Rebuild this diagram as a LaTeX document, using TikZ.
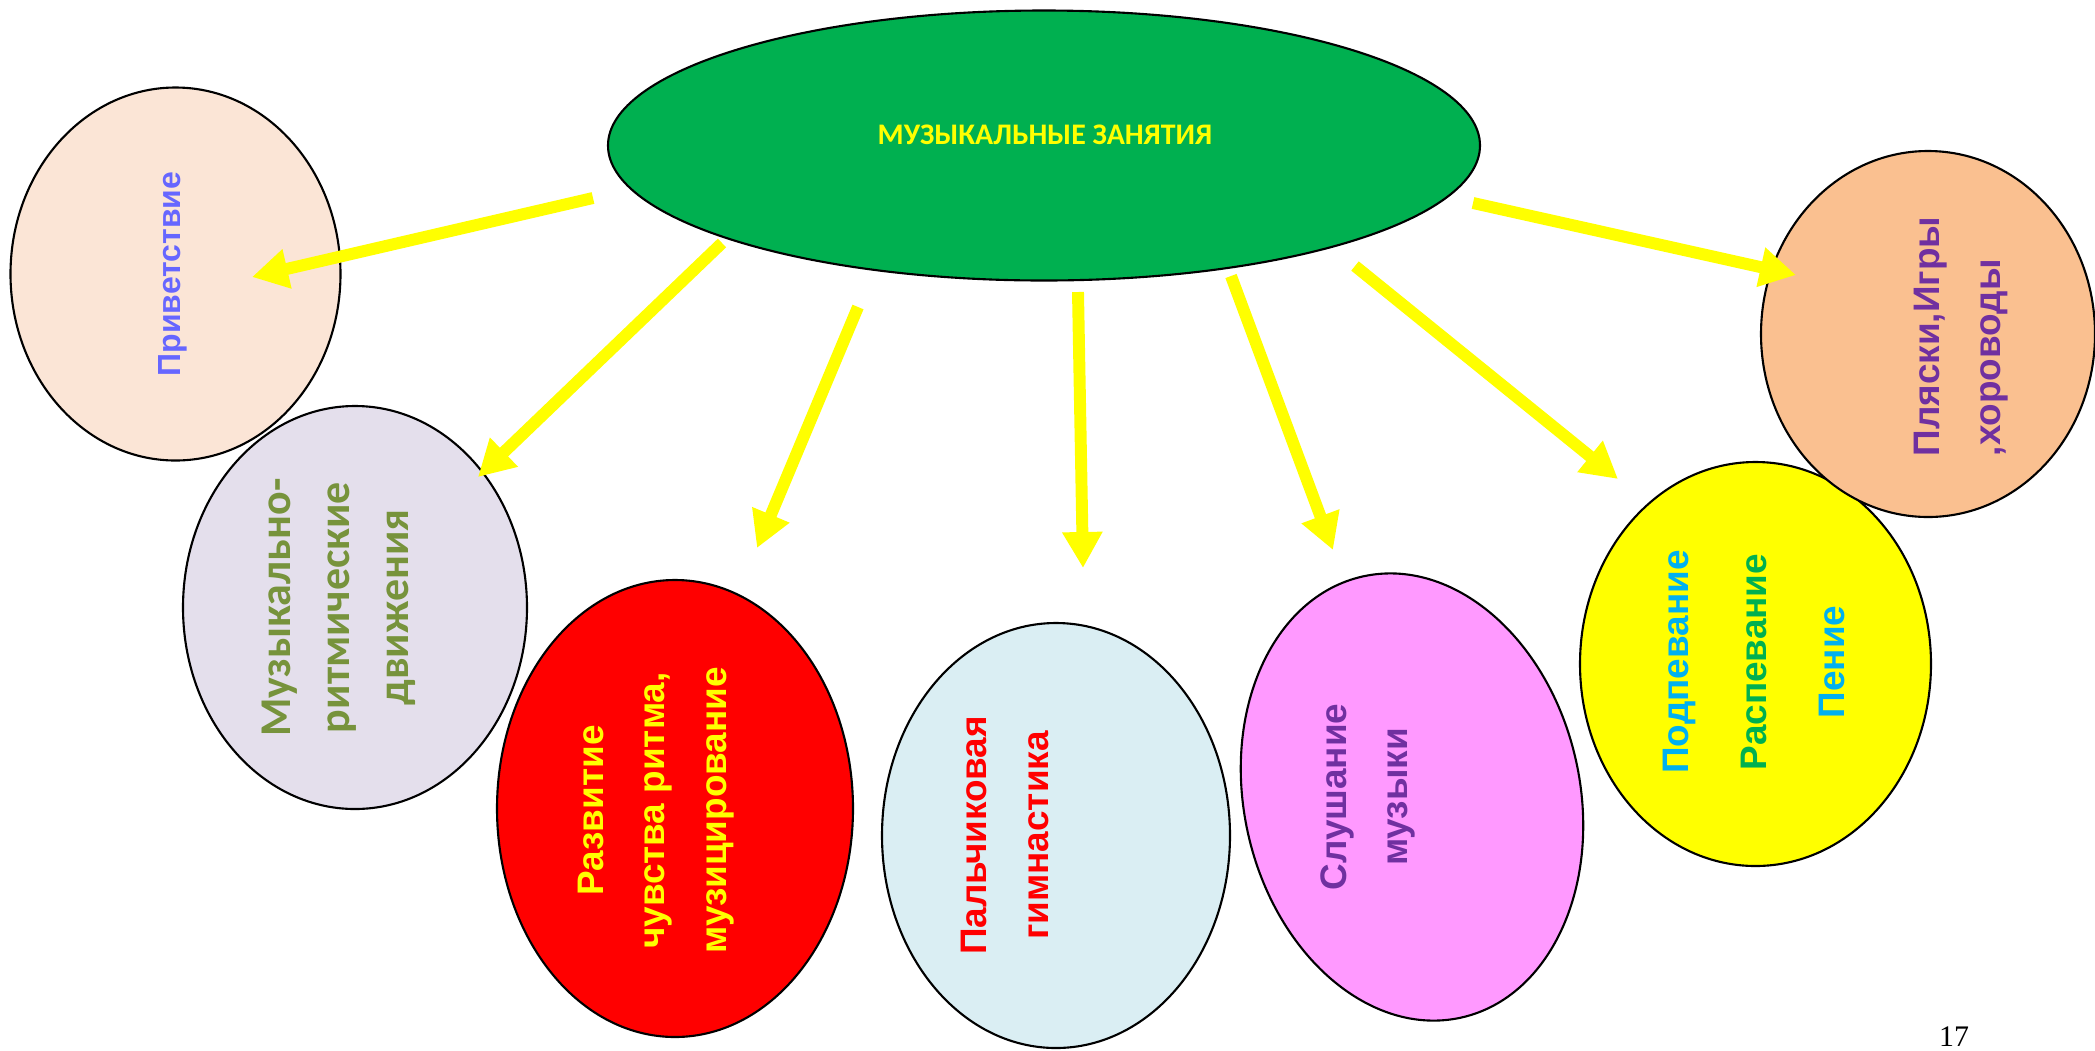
\documentclass[tikz,border=0pt]{standalone}
\usepackage{fontspec}
\setmainfont{Liberation Sans}
\newfontfamily\calibri{Carlito}
\newfontfamily\serifnum{Liberation Serif}
\usepackage{tikz}
\usetikzlibrary{calc,shapes.geometric,arrows.meta}
\definecolor{maingreen}{HTML}{00B050}
\definecolor{arrowyellow}{HTML}{FFFF00}
\definecolor{peach}{HTML}{FBE5D6}
\definecolor{lavender}{HTML}{E4DFEC}
\definecolor{paleblue}{HTML}{DAEEF3}
\definecolor{pink}{HTML}{FF99FF}
\definecolor{orange}{HTML}{FAC090}
\definecolor{violet}{HTML}{6666FF}
\definecolor{olive}{HTML}{77933C}
\definecolor{purple}{HTML}{7030A0}
\definecolor{cyan}{HTML}{00B0F0}
\def\drawarrow{\draw[color=arrowyellow, line width=3.4pt, -{Triangle[length=3.6mm,width=3.8mm]}]}
\def\bubble{\node[ellipse,draw=black,line width=0.6pt,inner sep=0pt]}
\def\bubbletext{\node[rotate=90,inner sep=0pt,align=center]}

\begin{document}
\begin{tikzpicture}[arial/.style={font=\bfseries\fontsize{10.5}{17.4}\selectfont}]
\useasboundingbox (0,0) rectangle (20.95,-10.5);

% ---------- the big green one on top
\bubble[fill=maingreen,minimum width=8.72cm,minimum height=2.70cm] (main) at (10.44,-1.455) {};
\node[text=arrowyellow,font=\calibri\bfseries\fontsize{8.5}{10}\selectfont] (maintxt) at ($ (main) + (0.01,0.105) $) {МУЗЫКАЛЬНЫЕ ЗАНЯТИЯ};

% ---------- the bubbles round it, left to right
\bubble[fill=peach,minimum width=3.30cm,minimum height=3.73cm] (greet) at (1.755,-2.74) {};
\bubbletext[text=violet,font=\bfseries\fontsize{9.1}{11}\selectfont] (greettxt) at ($ (greet) + (-0.03,0) $) {Приветствие};

\bubble[fill=lavender,minimum width=3.44cm,minimum height=4.03cm] (rhythm) at (3.55,-6.075) {};
\bubbletext[text=olive,font=\calibri\bfseries\fontsize{12.5}{16.8}\selectfont] (rhythmtxt) at ($ (rhythm) + (-0.16,0) $) {Музыкально-\\ритмические\\движения};

\bubble[fill=red,minimum width=3.56cm,minimum height=4.57cm] (beat) at (6.75,-8.085) {};
\bubbletext[arial,text=arrowyellow] (beattxt) at ($ (beat) + (-0.19,-0.02) $) {Развитие\\чувства ритма,\\музицирование};

\bubble[fill=paleblue,minimum width=3.48cm,minimum height=4.25cm] (finger) at (10.56,-8.355) {};
\bubbletext[arial,text=red] (fingertxt) at ($ (finger) + (-0.51,0) $) {Пальчиковая\\гимнастика};

\bubble[fill=pink,minimum width=3.36cm,minimum height=4.52cm,rotate=12.6] (listen) at (14.12,-7.97) {};
\bubbletext[arial,text=purple] (listentxt) at ($ (listen) + (-0.44,0) $) {Слушание\\музыки};

\bubble[fill=arrowyellow,minimum width=3.51cm,minimum height=4.04cm] (sing) at (17.555,-6.64) {};
\bubbletext[font=\bfseries\fontsize{10.5}{22.2}\selectfont] (singtxt) at ($ (sing) + (-0.02,0.02) $) {\textcolor{cyan}{Подпевание}\\\textcolor{maingreen}{Распевание}\\\textcolor{cyan}{Пение}};

\bubble[fill=orange,minimum width=3.34cm,minimum height=3.66cm] (dance) at (19.28,-3.34) {};
\bubbletext[arial,text=purple,align=left] (dancetxt) at ($ (dance) + (0.33,-0.025) $) {Пляски,Игры\\,хороводы};

% ---------- arrows: tails near the green one, tips at the bubbles
\coordinate (greet_in) at ($ (greet) + (0.765,-0.03) $);
\coordinate (rhythm_in) at ($ (rhythm) + (1.23,1.305) $);
\coordinate (beat_in) at ($ (beat) + (0.82,2.605) $);
\coordinate (finger_in) at ($ (finger) + (0.27,2.675) $);
\coordinate (listen_in) at ($ (listen) + (-0.79,2.47) $);
\coordinate (sing_in) at ($ (sing) + (-1.375,1.85) $);
\coordinate (dance_in) at ($ (dance) + (-1.32,0.59) $);

\drawarrow ($ (main) + (-4.51,-0.525) $) to (greet_in);
\drawarrow ($ (main) + (-3.22,-0.975) $) to (rhythm_in);
\drawarrow ($ (main) + (-1.86,-1.615) $) to (beat_in);
\drawarrow ($ (main) + (0.34,-1.465) $) to (finger_in);
\drawarrow ($ (main) + (1.87,-1.305) $) to (listen_in);
\drawarrow ($ (main) + (3.11,-1.205) $) to (sing_in);
\drawarrow ($ (main) + (4.29,-0.575) $) to (dance_in);

% page number
\node[anchor=base,inner sep=0pt,font=\serifnum\fontsize{8.5}{10}\selectfont] (pagenum) at (19.54,-10.46) {17};
\end{tikzpicture}
\end{document}
